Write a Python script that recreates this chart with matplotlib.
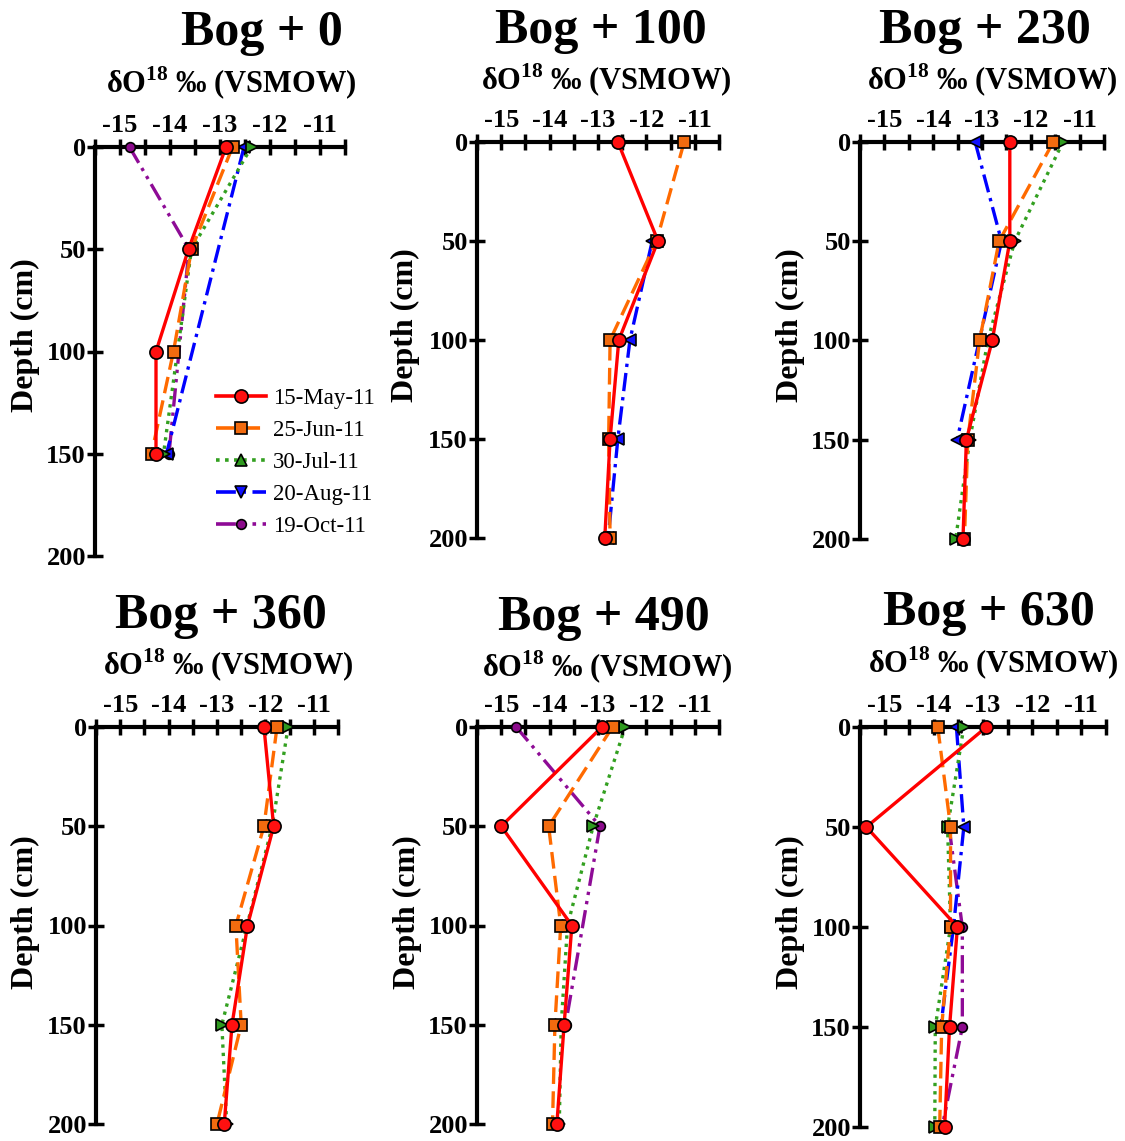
import numpy as np
import matplotlib
matplotlib.use('Agg')
import matplotlib.pyplot as plt
from matplotlib.lines import Line2D
from matplotlib.ticker import FormatStrFormatter

plt.rcParams['font.family'] = ['Liberation Serif', 'DejaVu Serif']
plt.rcParams['font.weight'] = 'bold'
plt.rcParams['axes.unicode_minus'] = False
plt.rcParams['mathtext.fontset'] = 'custom'
plt.rcParams['mathtext.rm'] = 'Liberation Serif:bold'
plt.rcParams['mathtext.bf'] = 'Liberation Serif:bold'

# sampling depths (cm) and sampling dates
depth = [0, 50, 100, 150, 200]
dates = ['15-May-11', '25-Jun-11', '30-Jul-11', '20-Aug-11', '19-Oct-11']
sites = ['Bog + 0', 'Bog + 100', 'Bog + 230', 'Bog + 360', 'Bog + 490', 'Bog + 630']

# d18O per date, ordered by depth; None = no sample
bog0 = [
    [-12.88, -13.63, -14.28, -14.28, None],
    [-12.75, -13.57, -13.93, -14.37, None],
    [-12.37, -13.57, None, -14.13, None],
    [-12.52, None, None, -14.07, None],
    [-14.81, -13.62, None, -14.02, None],
]
bog100 = [
    [-12.59, -11.76, -12.57, -12.75, -12.86],
    [-11.22, -11.79, -12.75, -12.78, -12.75],
    None,
    [None, -11.88, -12.34, -12.59, -12.79],
    None,
]
bog230 = [
    [-12.43, -12.43, -12.79, -13.32, -13.39],
    [-11.54, -12.65, -13.05, -13.29, -13.36],
    [-11.34, -12.33, -12.88, -13.25, -13.54],
    [-13.14, -12.60, None, -13.51, None],
    None,
]
bog360 = [
    [-12.03, -11.83, -12.37, -12.69, -12.85],
    [-11.76, -12.03, -12.61, -12.50, -13.00],
    [-11.53, -11.86, None, -12.90, -12.80],
    None,
    None,
]
bog490 = [
    [-12.92, -15.00, -13.54, -13.70, -13.85],
    [-12.70, -14.02, -13.77, -13.89, -13.94],
    [-12.44, -13.10, -13.63, -13.76, -13.80],
    None,
    [-14.69, -12.96, None, -13.67, None],
]
bog630 = [
    [-12.93, -15.37, -13.52, -13.68, -13.78],
    [-13.92, -13.66, -13.66, -13.84, -13.88],
    [-13.39, -13.72, -13.66, -13.97, -13.98],
    [-13.54, -13.39, -13.60, -13.86, None],
    [None, -13.69, -13.42, -13.42, -13.83],
]
site_data = [bog0, bog100, bog230, bog360, bog490, bog630]

# line/marker styles per date
colors = ['#ff0000', '#ff6a00', '#33a020', '#0000ff', '#8e0b96']
faces = ['#ff1010', '#f26b0f', '#2f9a1f', '#1010ff', '#8b0a8b']
styles = ['-', (0, (5, 2.2)), (0, (1, 1.5)), (0, (5.5, 1.8, 1, 1.8)),
          (0, (5.5, 1.8, 1, 1.8, 1, 1.8))]
markers = ['o', 's', '>', '<', 'o']
legend_markers = ['o', 's', '^', 'v', 'o']
msizes = [9.5, 9, 8.5, 8.5, 7]
zorders = [10, 9, 8, 7, 6]

W, H = 1125, 1141
fig = plt.figure(figsize=(W / 100, H / 100), dpi=100)


def fx(x):
    return x / W


def fy(y):
    return 1 - y / H


# axes boxes in pixels: left, top (depth 0), right, bottom (depth 200)
boxes = [(95, 147, 345, 556), (477, 142, 719, 538), (860, 142, 1104, 539),
         (96, 727, 338, 1124), (477, 727, 719, 1124), (860, 727, 1106, 1127)]
title_pos = [(262, 45), (601, 43), (985, 43), (221, 628), (604, 630), (989, 625)]
xlab_pos = [(231, 93), (606, 90), (992, 90), (228, 675), (607, 677), (993, 673)]
ylab_pos = [(25, 335), (405, 325), (790, 325), (25, 912), (407, 912), (790, 912)]

for k, (site, data) in enumerate(zip(sites, site_data)):
    l, t, r, b = boxes[k]
    ax = fig.add_axes([fx(l), fy(b), fx(r - l), (b - t) / H])
    for i in range(len(dates)):
        vals = data[i]
        if vals is None:
            continue
        xs = [v for v in vals if v is not None]
        ys = [d for d, v in zip(depth, vals) if v is not None]
        ax.plot(xs, ys, color=colors[i], ls=styles[i], lw=2.4,
                marker=markers[i], ms=msizes[i], mfc=faces[i], mec='black',
                mew=1.2, clip_on=False, zorder=zorders[i])

    ax.set_xlim(-15.5, -10.5)
    ax.set_ylim(200, 0)
    ax.set_xticks(np.arange(-15, -10.9, 1))
    ax.set_xticks(np.arange(-15.5, -10.4, 0.5), minor=True)
    ax.xaxis.set_major_formatter(FormatStrFormatter('%d'))
    ax.set_yticks(depth)
    ax.xaxis.tick_top()
    for side in ['right', 'bottom']:
        ax.spines[side].set_visible(False)
    for side in ['top', 'left']:
        ax.spines[side].set_linewidth(3)
    ax.tick_params(axis='x', which='both', direction='inout', length=11,
                   width=2.5, top=True, bottom=False, labeltop=True,
                   labelbottom=False, labelsize=19, pad=2)
    ax.tick_params(axis='y', which='major', direction='inout', length=11,
                   width=2.5, labelsize=19, pad=1)
    ax.patch.set_alpha(0)

    fig.text(fx(title_pos[k][0]), fy(title_pos[k][1]), site, fontsize=36,
             ha='center', va='baseline')
    fig.text(fx(xlab_pos[k][0]), fy(xlab_pos[k][1]),
             'δO$^{18}$ ‰ (VSMOW)', fontsize=22, ha='center', va='baseline')
    fig.text(fx(ylab_pos[k][0]), fy(ylab_pos[k][1]), 'Depth (cm)',
             fontsize=23, rotation=90, ha='center', va='center')

handles = [Line2D([], [], color=colors[i], ls=styles[i], lw=2.6,
                  marker=legend_markers[i], ms=msizes[i],
                  mfc=faces[i], mec='black', mew=1.2)
           for i in range(len(dates))]
fig.legend(handles, dates, loc='upper left',
           bbox_to_anchor=(fx(216), fy(388)), frameon=False,
           prop={'family': 'Liberation Serif', 'weight': 'normal', 'size': 16.5},
           handlelength=2.2, handletextpad=0.3, labelspacing=0.48,
           borderpad=0, borderaxespad=0)

fig.savefig('out.png', dpi=100)
